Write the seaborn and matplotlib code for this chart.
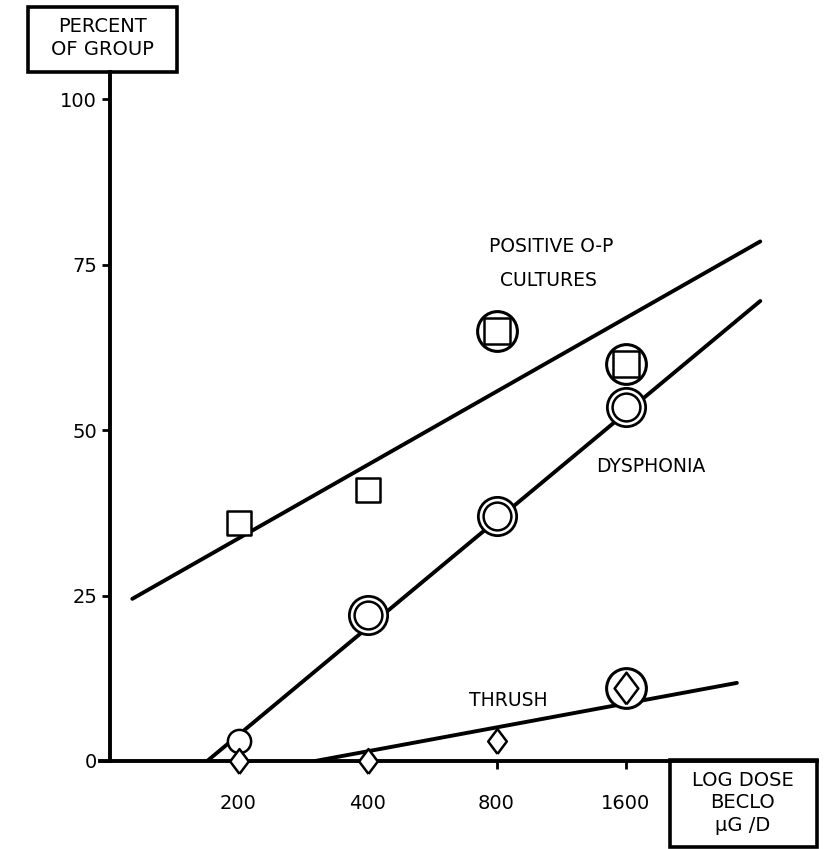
import matplotlib
matplotlib.use("Agg")
import matplotlib.pyplot as plt
from matplotlib.patches import Rectangle
from matplotlib.ticker import NullLocator
import pandas as pd
import seaborn as sns

# ---------------- data ----------------
doses = [200, 400, 800, 1600]
dose_labels = ["200", "400", "800", "1600"]
cultures_pct = [36, 41, 65, 60]
dysphonia_pct = [3, 22, 37, 53.5]
thrush_pct = [0, 0, 3, 11]
# points that are encircled in the original figure
cultures_circled = [False, False, True, True]
dysphonia_ringed = [False, True, True, True]
thrush_circled = [False, False, False, True]

# fitted lines: end points
cultures_fit_dose = [113, 3300]
cultures_fit_pct = [24.5, 78.5]
dysphonia_fit_dose = [169, 3300]
dysphonia_fit_pct = [0, 69.5]
thrush_fit_dose = [302, 2910]
thrush_fit_pct = [0, 11.8]

y_ticks = [0, 25, 50, 75, 100]
y_tick_labels = ["0", "25", "50", "75", "100"]

# ---------------- figure ----------------
sns.set_style("white")
plt.rcParams["font.family"] = ["DejaVu Sans"]
plt.rcParams["text.color"] = "black"
plt.rcParams["xtick.color"] = "black"
plt.rcParams["ytick.color"] = "black"

W, H = 828, 849
fig = plt.figure(figsize=(W / 100, H / 100), dpi=100)
ax = fig.add_axes([100 / W, 88 / H, 717 / W, 689 / H])
ax.set_xscale("log", base=2)
ax.set_xlim(95.0, 4476)
ax.set_ylim(0, 104.1)

LW = 2.8
line_kw = dict(color="black", linewidth=LW, estimator=None, sort=False, ax=ax,
               legend=False)
sns.lineplot(x=cultures_fit_dose, y=cultures_fit_pct, **line_kw)
sns.lineplot(x=dysphonia_fit_dose, y=dysphonia_fit_pct, **line_kw)
sns.lineplot(x=thrush_fit_dose, y=thrush_fit_pct, **line_kw)

df = pd.DataFrame({
    "dose": doses,
    "cultures": cultures_pct,
    "dysphonia": dysphonia_pct,
    "thrush": thrush_pct,
    "c_circ": cultures_circled,
    "d_ring": dysphonia_ringed,
    "t_circ": thrush_circled,
})

mk = dict(color="white", edgecolor="black", ax=ax, clip_on=False, legend=False)
diamond = [(0, -1), (0.75, 0), (0, 1), (-0.75, 0), (0, -1)]

# cultures: squares, some inside circles
sns.scatterplot(data=df[df.c_circ], x="dose", y="cultures", marker="o", s=820,
                linewidth=2.2, zorder=5, **mk)
sns.scatterplot(data=df[~df.c_circ], x="dose", y="cultures", marker="s", s=280,
                linewidth=1.8, zorder=6, **mk)
sns.scatterplot(data=df[df.c_circ], x="dose", y="cultures", marker="s", s=340,
                linewidth=1.8, zorder=6, **mk)

# dysphonia: double circles (single at the lowest dose)
sns.scatterplot(data=df[df.d_ring], x="dose", y="dysphonia", marker="o", s=760,
                linewidth=2.0, zorder=5, **mk)
sns.scatterplot(data=df[df.d_ring], x="dose", y="dysphonia", marker="o", s=400,
                linewidth=1.8, zorder=6, **mk)
sns.scatterplot(data=df[~df.d_ring], x="dose", y="dysphonia", marker="o", s=280,
                linewidth=1.8, zorder=6, **mk)

# thrush: diamonds, one inside a circle
sns.scatterplot(data=df[df.t_circ], x="dose", y="thrush", marker="o", s=820,
                linewidth=2.2, zorder=5, **mk)
sns.scatterplot(data=df[~df.t_circ], x="dose", y="thrush", marker=diamond, s=320,
                linewidth=1.8, zorder=6, **mk)
sns.scatterplot(data=df[df.t_circ], x="dose", y="thrush", marker=diamond, s=520,
                linewidth=1.8, zorder=6, **mk)

# axes styling
for side in ("top", "right"):
    ax.spines[side].set_visible(False)
ax.spines["left"].set_position(("data", 100))
ax.spines["left"].set_linewidth(LW)
ax.spines["bottom"].set_linewidth(LW)
ax.spines["left"].set_color("black")
ax.spines["bottom"].set_color("black")

ax.set_xticks(doses, labels=dose_labels)
ax.xaxis.set_minor_locator(NullLocator())
ax.set_yticks(y_ticks, labels=y_tick_labels)
ax.yaxis.set_minor_locator(NullLocator())
ax.tick_params(axis="x", direction="out", length=6, width=2, pad=18,
               labelsize=14, colors="black", bottom=True)
ax.tick_params(axis="y", direction="out", length=6, width=2, pad=3,
               labelsize=14, colors="black", left=True)
ax.set_xlabel("")
ax.set_ylabel("")
ax.grid(False)

# boxed axis titles
def fx(px):
    return px / W


def fy(py):
    return 1 - py / H


fig.add_artist(Rectangle((fx(28), fy(72)), 149 / W, 65 / H, transform=fig.transFigure,
                         fill=False, linewidth=2.6, edgecolor="black"))
fig.text(fx(102.5), fy(38), "PERCENT\nOF GROUP", ha="center", va="center",
         fontsize=14, linespacing=1.25, color="black")

fig.add_artist(Rectangle((fx(670), fy(847)), 147 / W, 87 / H, transform=fig.transFigure,
                         fill=False, linewidth=2.6, edgecolor="black"))
fig.text(fx(743), fy(803), "LOG DOSE\nBECLO\nμG /D", ha="center", va="center",
         fontsize=14, linespacing=1.25, color="black")

# series labels
fig.text(fx(551), fy(246), "POSITIVE O-P", ha="center", va="center",
         fontsize=13.5, color="black")
fig.text(fx(548), fy(281), "CULTURES", ha="center", va="center",
         fontsize=13.5, color="black")
fig.text(fx(651), fy(466), "DYSPHONIA", ha="center", va="center",
         fontsize=13.5, color="black")
fig.text(fx(508), fy(700), "THRUSH", ha="center", va="center",
         fontsize=13.5, color="black")

fig.savefig("out.png", dpi=100)
